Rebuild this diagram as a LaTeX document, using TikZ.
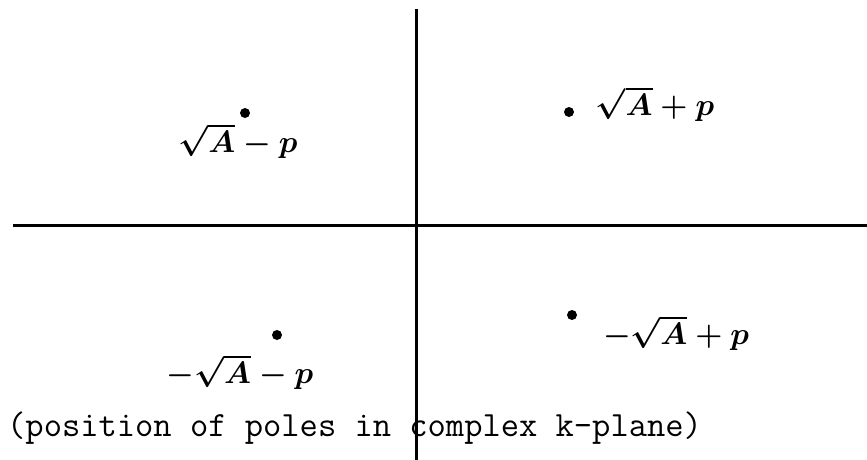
\RequirePackage{fix-cm}
\documentclass[tikz,border=0pt]{standalone}
\usepackage{fontspec}
\tikzstyle{axis}=[black, line width=3pt]
\tikzstyle{pole}=[circle, fill=black, inner sep=0pt, minimum size=10pt]
\tikzstyle{polelabel}=[inner sep=0pt, font=\fontsize{31}{37}\selectfont\boldmath]

\begin{document}
\begin{tikzpicture}[x=1pt, y=-1pt]
				\useasboundingbox (0,0) rectangle (867,460);
				\coordinate (top) at (416,9);
				\coordinate (bottom) at (416,460);
				\coordinate (left) at (13,225);
				\coordinate (right) at (867,225);
				\draw[axis] (top) -- (bottom);
				\draw[axis] (left) -- (right);
				\node[pole] (ul) at (245,113) {};
				\node[pole] (ur) at (569,112) {};
				\node[pole] (lr) at (572,315) {};
				\node[pole] (ll) at (277,335) {};
				\node[polelabel] (ultext) at (238,141) {$\sqrt{A} - p$};
				\node[polelabel] (urtext) at (655,104) {$\sqrt{A} + p$};
				\node[polelabel] (lrtext) at (676,333) {$-\sqrt{A} + p$};
				\node[polelabel] (lltext) at (240,372) {$-\sqrt{A} - p$};
				\node[anchor=west, inner sep=0pt, font=\ttfamily\fontsize{35.5}{40}\selectfont] (caption) at (7,428) {(position of poles in complex k-plane)};
			\end{tikzpicture}
\end{document}
